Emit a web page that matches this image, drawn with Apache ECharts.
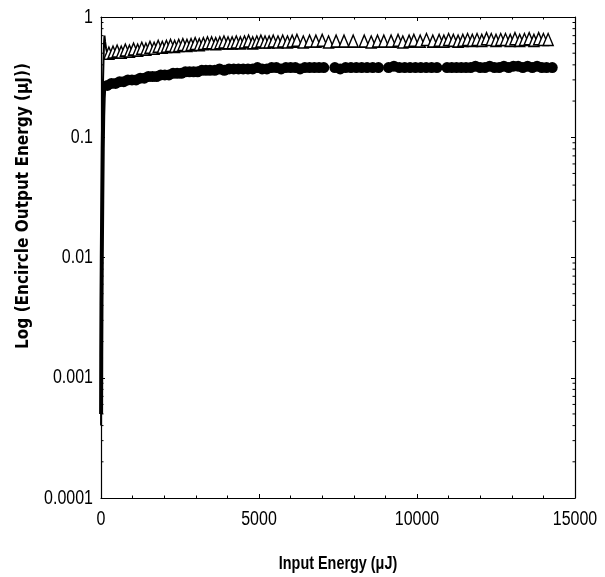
<!DOCTYPE html>
<html><head><meta charset="utf-8">
<script src="https://cdn.jsdelivr.net/npm/echarts@6/dist/echarts.min.js"></script>
<style>html,body{margin:0;padding:0;background:#fff}#c{width:605px;height:577px}</style>
</head><body><div id="c"></div>
<script>
// tick labels
const xTickValues = [0, 5000, 10000, 15000];
const yTickValues = [0.0001, 0.001, 0.01, 0.1, 1];
const yTickLabels = ['0.0001', '0.001', '0.01', '0.1', '1'];
const yMinorTicks = [0.0002,0.0003,0.0004,0.0005,0.0006,0.0007,0.0008,0.0009,
  0.002,0.003,0.004,0.005,0.006,0.007,0.008,0.009,
  0.02,0.03,0.04,0.05,0.06,0.07,0.08,0.09,
  0.2,0.3,0.4,0.5,0.6,0.7,0.8,0.9];
const xAxisTitle = 'Input Energy (\u03bcJ)';
const yAxisTitle = 'Log (Encircle Output Energy (\u03bcJ))';

// low-energy rise (near x = 0)
const triRiseX = [2, 5, 10, 20, 35, 50, 65, 80, 95, 110, 130, 160, 200];
const triRiseY = [0.0004, 0.001, 0.003, 0.01, 0.04, 0.12, 0.3, 0.44, 0.6, 0.7, 0.62, 0.55, 0.5];
const cirRiseX = [3, 8, 15, 25, 40, 55, 70, 85, 100, 120, 150];
const cirRiseY = [0.0005, 0.0015, 0.004, 0.01, 0.03, 0.08, 0.15, 0.21, 0.25, 0.26, 0.26];

// open triangles
const triX = [250, 380, 510, 640, 770, 900, 1030, 1160, 1290, 1420, 1550, 1680, 1810, 1940, 2070, 2200, 2330, 2460, 2590, 2720, 2850, 2980, 3110, 3240, 3370, 3500, 3630, 3760, 3890, 4020, 4150, 4280, 4410, 4540, 4670, 4800, 4930, 5060, 5190, 5320, 5450, 5600, 5750, 5900, 6050, 6200, 6400, 6600, 6800, 7000, 7200, 7440, 7690, 7980, 8330, 8550, 8750, 8950, 9180, 9400, 9550, 9750, 9900, 10100, 10300, 10500, 10700, 10850, 11000, 11150, 11300, 11450, 11600, 11750, 11900, 12050, 12200, 12350, 12500, 12650, 12800, 12950, 13100, 13250, 13400, 13550, 13700, 13850, 14000, 14150];
const triY = [0.5, 0.51, 0.52, 0.51, 0.53, 0.52, 0.54, 0.53, 0.55, 0.54, 0.56, 0.55, 0.57, 0.56, 0.57, 0.58, 0.57, 0.58, 0.59, 0.58, 0.59, 0.6, 0.59, 0.6, 0.61, 0.61, 0.6, 0.61, 0.62, 0.61, 0.61, 0.62, 0.61, 0.62, 0.63, 0.61, 0.62, 0.63, 0.62, 0.62, 0.63, 0.62, 0.63, 0.62, 0.63, 0.64, 0.62, 0.63, 0.63, 0.64, 0.62, 0.63, 0.63, 0.63, 0.63, 0.62, 0.63, 0.63, 0.63, 0.64, 0.62, 0.63, 0.64, 0.63, 0.65, 0.63, 0.64, 0.63, 0.65, 0.64, 0.63, 0.64, 0.65, 0.64, 0.65, 0.64, 0.66, 0.65, 0.64, 0.65, 0.65, 0.64, 0.66, 0.64, 0.65, 0.66, 0.64, 0.66, 0.65, 0.65];

// filled circles
const cirX = [200, 330, 460, 590, 720, 850, 980, 1110, 1240, 1370, 1500, 1630, 1760, 1890, 2020, 2150, 2280, 2410, 2540, 2670, 2800, 2930, 3060, 3190, 3320, 3450, 3600, 3750, 3900, 4050, 4200, 4350, 4500, 4650, 4800, 4950, 5100, 5250, 5400, 5550, 5700, 5850, 6000, 6150, 6300, 6450, 6600, 6750, 6900, 7050, 7400, 7570, 7740, 7910, 8080, 8250, 8420, 8600, 8780, 9100, 9270, 9440, 9610, 9780, 9950, 10120, 10290, 10460, 10630, 10950, 11100, 11250, 11400, 11550, 11700, 11850, 12000, 12150, 12300, 12450, 12600, 12750, 12900, 13050, 13200, 13350, 13500, 13650, 13800, 13950, 14100, 14280];
const cirY = [0.27, 0.28, 0.28, 0.29, 0.29, 0.3, 0.3, 0.3, 0.31, 0.31, 0.32, 0.32, 0.32, 0.33, 0.33, 0.33, 0.34, 0.34, 0.34, 0.35, 0.35, 0.35, 0.35, 0.36, 0.36, 0.36, 0.36, 0.37, 0.36, 0.37, 0.37, 0.37, 0.37, 0.37, 0.37, 0.38, 0.37, 0.37, 0.38, 0.38, 0.37, 0.38, 0.38, 0.38, 0.37, 0.38, 0.38, 0.38, 0.38, 0.38, 0.38, 0.37, 0.38, 0.38, 0.38, 0.38, 0.38, 0.38, 0.38, 0.38, 0.39, 0.38, 0.38, 0.38, 0.38, 0.38, 0.38, 0.38, 0.38, 0.38, 0.38, 0.38, 0.38, 0.38, 0.38, 0.39, 0.38, 0.38, 0.39, 0.38, 0.38, 0.39, 0.38, 0.39, 0.39, 0.38, 0.39, 0.38, 0.39, 0.38, 0.38, 0.38];

const zip = (xs, ys) => xs.map((x, i) => [x, ys[i]]);
const NARROW = "'Liberation Sans', Arial, sans-serif";
const COND = "'DejaVu Sans Condensed', 'Liberation Sans', sans-serif";

const chart = echarts.init(document.getElementById('c'), null, {renderer: 'canvas'});
const axisLine = {show: true, onZero: false, lineStyle: {color: '#000', width: 1.2}};
const tick = {show: true, inside: true, length: 4, lineStyle: {color: '#000'}};
const minorX = {show: true, splitNumber: 5, length: 2.5, lineStyle: {color: '#000'}};
chart.setOption({
  animation: false,
  backgroundColor: '#fff',
  grid: {left: 101, right: 30, top: 17, bottom: 79, containLabel: false},
  xAxis: [{
    type: 'value', min: 0, max: 15000, interval: 5000,
    axisLine, splitLine: {show: false}, axisTick: tick, minorTick: minorX,
    axisLabel: {show: false}
  }, {
    type: 'value', position: 'top', min: 0, max: 15000, interval: 5000,
    axisLine, splitLine: {show: false}, axisLabel: {show: false},
    axisTick: tick, minorTick: minorX
  }],
  yAxis: [{
    type: 'log', logBase: 10, min: 0.0001, max: 1,
    axisLine, splitLine: {show: false}, axisTick: tick, axisLabel: {show: false}
  }, {
    type: 'log', logBase: 10, min: 0.0001, max: 1, position: 'right',
    axisLine, splitLine: {show: false}, axisLabel: {show: false}, axisTick: tick
  }],
  series: [
    {type: 'custom', coordinateSystem: 'cartesian2d', data: yMinorTicks.map(v => [0, v]), silent: true, clip: false,
     renderItem: (params, api) => {
       const v = api.value(1);
       const l = api.coord([0, v]);
       const r = api.coord([15000, v]);
       return {type: 'group', children: [
         {type: 'line', shape: {x1: l[0], y1: l[1], x2: l[0] + 2.5, y2: l[1]}, style: {stroke: '#000', lineWidth: 1}},
         {type: 'line', shape: {x1: r[0], y1: r[1], x2: r[0] - 2.5, y2: r[1]}, style: {stroke: '#000', lineWidth: 1}}
       ]};
     }},
    {type: 'line', data: zip(triRiseX, triRiseY), showSymbol: false,
     lineStyle: {color: '#000', width: 2}, z: 3},
    {type: 'line', data: zip(cirRiseX, cirRiseY), showSymbol: false,
     lineStyle: {color: '#000', width: 4}, z: 3},
    {type: 'scatter', data: zip(triX, triY), symbol: 'triangle', symbolSize: [10, 12],
     itemStyle: {color: '#fff', borderColor: '#000', borderWidth: 1.5, opacity: 1}, z: 4},
    {type: 'scatter', data: zip(cirX, cirY), symbol: 'circle', symbolSize: 11,
     itemStyle: {color: '#000', opacity: 1}, z: 4}
  ]
});

// tick labels and titles placed through the axes' own scales
const gx0 = chart.convertToPixel({xAxisIndex: 0}, 0);
const gx1 = chart.convertToPixel({xAxisIndex: 0}, 15000);
const gyBottom = chart.convertToPixel({yAxisIndex: 0}, 0.0001);
const gyTop = chart.convertToPixel({yAxisIndex: 0}, 1);
const graphics = [];
xTickValues.forEach(v => {
  graphics.push({type: 'text', x: chart.convertToPixel({xAxisIndex: 0}, v), y: gyBottom + 21, scaleX: 0.8,
    style: {text: String(v), fill: '#000', font: '20px ' + NARROW, align: 'center', verticalAlign: 'middle'}});
});
yTickValues.forEach((v, i) => {
  graphics.push({type: 'text', x: gx0 - 8, y: chart.convertToPixel({yAxisIndex: 0}, v), scaleX: 0.8,
    style: {text: yTickLabels[i], fill: '#000', font: '20px ' + NARROW, align: 'right', verticalAlign: 'middle'}});
});
graphics.push({type: 'text', x: (gx0 + gx1) / 2, y: gyBottom + 66, scaleX: 0.8,
  style: {text: xAxisTitle, fill: '#000', font: 'bold 18px ' + NARROW, align: 'center', verticalAlign: 'middle'}});
graphics.push({type: 'text', x: 24, y: gyTop + 189, rotation: Math.PI / 2,
  style: {text: yAxisTitle, fill: '#000', font: 'bold 17px ' + COND, align: 'center', verticalAlign: 'middle'}});
chart.setOption({graphic: graphics});
</script></body></html>
